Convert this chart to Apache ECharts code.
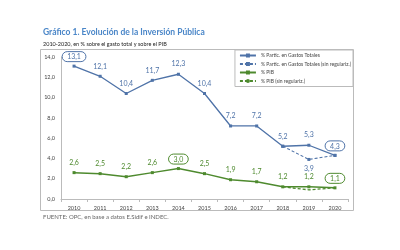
<!DOCTYPE html>
<html>
<head>
<meta charset="utf-8" />
<script src="https://cdn.jsdelivr.net/npm/echarts@6/dist/echarts.min.js"></script>
<style>
html, body { margin: 0; padding: 0; background: #fff; }
#main { width: 400px; height: 250px; }
</style>
</head>
<body>
<div id="main"></div>
<script>
// datos
var years = ['2010', '2011', '2012', '2013', '2014', '2015', '2016', '2017', '2018', '2019', '2020'];
var gastoTotal = [13.1, 12.1, 10.4, 11.7, 12.3, 10.4, 7.2, 7.2, 5.2, 5.3, 4.3];
var gastoSinReg = [null, null, null, null, null, null, null, null, 5.2, 3.9, 4.3];
var pib = [2.6, 2.5, 2.2, 2.6, 3.0, 2.5, 1.9, 1.7, 1.2, 1.2, 1.1];
var pibSinReg = [null, null, null, null, null, null, null, null, 1.2, 0.9, 1.1];
var yTicks = [0, 2, 4, 6, 8, 10, 12, 14];
// puntos con elipse alrededor de la etiqueta
var circledBlue = [0, 10];
var circledGreen = [4, 10];

var blue = '#4f73a8';
var navy = '#2f4d7e';
var green = '#4e8a2e';

function fmt(v) { return v.toFixed(1).replace('.', ','); }

function withCircles(values, idx, color) {
  return values.map(function (v, i) {
    if (idx.indexOf(i) < 0) return v;
    return {
      value: v,
      label: {
        borderColor: color, borderWidth: 1, borderRadius: 8,
        padding: [2, 5, 1, 5], distance: 3
      }
    };
  });
}

var myChart = echarts.init(document.getElementById('main'));
var option = {
  animation: false,
  textStyle: { fontFamily: 'Lato' },
  title: [{
    text: 'Gráfico 1. Evolución de la Inversión Pública',
    left: 43, top: 28, padding: 0,
    textStyle: { fontSize: 8.5, fontWeight: 'bold', color: '#4a86c8', fontFamily: 'Lato' }
  }, {
    text: '2010-2020, en % sobre el gasto total y sobre el PIB',
    left: 43, top: 41, padding: 0,
    textStyle: { fontSize: 5.5, fontWeight: 'normal', color: '#222', fontFamily: 'Lato' }
  }, {
    text: 'FUENTE: OPC, en base a datos E.Sidif e INDEC.',
    left: 43, top: 214, padding: 0,
    textStyle: { fontSize: 6, fontWeight: 'normal', color: '#666', fontFamily: 'Lato' }
  }],
  graphic: [{
    type: 'rect',
    shape: { x: 40.5, y: 49.5, width: 313, height: 161 },
    style: { fill: 'none', stroke: '#bbb', lineWidth: 1 },
    silent: true
  }],
  legend: {
    right: 47, top: 50,
    orient: 'vertical',
    itemWidth: 16, itemHeight: 5, itemGap: 3.5,
    padding: [3, 2, 3, 4],
    borderColor: '#bbb', borderWidth: 1,
    backgroundColor: '#fff',
    textStyle: { fontSize: 5, color: '#444' },
    data: ['% Partic. en Gastos Totales', '% Partic. en Gastos Totales (sin regulariz.)', '% PIB', '% PIB (sin regulariz.)']
  },
  grid: { left: 61, right: 52, top: 57, bottom: 51 },
  xAxis: {
    type: 'category',
    data: years,
    axisLine: { lineStyle: { color: '#bbb' } },
    axisTick: { show: true, lineStyle: { color: '#bbb' }, length: 3 },
    axisLabel: { fontSize: 5.5, color: '#444', margin: 6 }
  },
  yAxis: {
    type: 'value',
    min: yTicks[0], max: yTicks[yTicks.length - 1], interval: 2,
    splitLine: { show: false },
    axisLine: { show: true, lineStyle: { color: '#bbb' } },
    axisTick: { show: false },
    axisLabel: { fontSize: 5.5, color: '#444', margin: 6, formatter: function (v) { return fmt(v); } }
  },
  series: [{
    name: '% Partic. en Gastos Totales',
    type: 'line',
    data: withCircles(gastoTotal, circledBlue, blue),
    color: blue,
    symbol: 'rect', symbolSize: 3,
    lineStyle: { width: 1.3, color: blue },
    label: { show: true, position: 'top', distance: 5, fontSize: 7, color: blue,
      formatter: function (p) { return fmt(p.value); } },
    z: 3
  }, {
    name: '% Partic. en Gastos Totales (sin regulariz.)',
    type: 'line',
    data: gastoSinReg,
    color: navy,
    symbol: 'rect', symbolSize: 3,
    lineStyle: { width: 1.1, type: [3, 2], color: blue },
    itemStyle: { color: blue },
    label: { show: true, position: 'bottom', distance: 4, fontSize: 7, color: blue,
      formatter: function (p) { return p.dataIndex === 9 ? fmt(p.value) : ''; } },
    z: 2
  }, {
    name: '% PIB',
    type: 'line',
    data: withCircles(pib, circledGreen, green),
    color: green,
    symbol: 'rect', symbolSize: 3,
    lineStyle: { width: 1.5, color: green },
    label: { show: true, position: 'top', distance: 5, fontSize: 7, color: green,
      formatter: function (p) { return fmt(p.value); } },
    z: 3
  }, {
    name: '% PIB (sin regulariz.)',
    type: 'line',
    data: pibSinReg,
    color: green,
    symbol: 'none',
    lineStyle: { width: 1.3, type: [3, 2], color: green },
    label: { show: true, position: 'bottom', distance: 3, fontSize: 7, color: green,
      formatter: function (p) { return p.dataIndex === 9 ? fmt(p.value) : ''; } },
    z: 2
  }]
};
myChart.setOption(option);
</script>
</body>
</html>
